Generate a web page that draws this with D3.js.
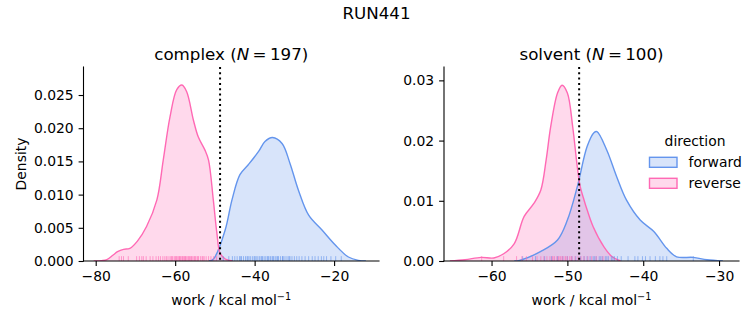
<!DOCTYPE html>
<html><head><meta charset="utf-8">
<script src="https://cdn.jsdelivr.net/npm/d3@7"></script>
<style>
html,body{margin:0;padding:0;background:#fff;}
svg{display:block;font-family:"DejaVu Sans",sans-serif;}
</style></head>
<body><svg id="chart" width="753" height="325"></svg>
<script>
// ---- data ----
const suptitle = "RUN441";
const directions = ["forward", "reverse"];
const colors = ["#6495ED", "#FF69B4"];

// complex panel density curves
const complexForwardWork = [-51.5,-50.8,-50.0,-47.4,-45.7,-43.7,-41.6,-39.0,-37.4,-35.5,-33.1,-31.1,-29.0,-26.4,-23.1,-19.7,-16.4,-13.9,-12.0];
const complexForwardDensity = [0,0.0001,0.0006,0.0047,0.0092,0.0130,0.0145,0.0165,0.0180,0.0186,0.0177,0.0147,0.0107,0.0069,0.0047,0.0024,0.0006,0.0001,0];
const complexReverseWork = [-80.5,-78.5,-77.2,-75.6,-74.5,-73.0,-71.4,-69.5,-67.2,-64.6,-63.0,-61.3,-59.6,-58.3,-57.1,-55.4,-54.2,-52.5,-51.6,-50.4,-49.5,-48.7,-47.4,-45.5];
const complexReverseDensity = [0,0.00005,0.0002,0.0009,0.0014,0.00176,0.0019,0.0030,0.0052,0.0092,0.0152,0.0217,0.0258,0.0265,0.0255,0.0212,0.0187,0.0167,0.0152,0.0092,0.0042,0.0012,0.0003,0];

// solvent panel density curves
const solventForwardWork = [-57.0,-56.3,-53.5,-51.3,-50.0,-48.7,-47.4,-46.5,-46.1,-44.8,-43.5,-42.2,-40.4,-38.6,-36.9,-35.6,-33.4,-31.6,-29.5];
const solventForwardDensity = [0,0.0001,0.0016,0.0035,0.0068,0.0123,0.0190,0.0213,0.0215,0.0184,0.0140,0.0101,0.0068,0.0049,0.0021,0.0007,0.0006,0.0002,0];
const solventReverseWork = [-65.5,-63.5,-61.4,-59.7,-58.4,-57.0,-55.7,-54.4,-53.5,-52.8,-52.2,-51.3,-50.7,-50.0,-49.3,-48.7,-48.3,-47.8,-47.4,-46.6,-45.2,-44.1,-43.0];
const solventReverseDensity = [0,0.0002,0.0006,0.0005,0.0012,0.0029,0.0074,0.0096,0.0118,0.0168,0.0223,0.0279,0.0292,0.0279,0.0223,0.0157,0.0123,0.0101,0.0085,0.0057,0.0024,0.0007,0];

// rug samples (individual work values)
const complexForwardRug = [-47.9,-46.5,-45.6,-45.0,-44.4,-43.8,-43.5,-43.3,-42.8,-42.3,-41.9,-41.7,-41.4,-41.0,-40.5,-40.1,-39.9,-39.6,-39.2,-38.8,-38.4,-38.2,-38.0,-37.6,-37.2,-36.8,-36.6,-36.4,-36.0,-35.6,-35.4,-35.2,-34.8,-34.4,-34.2,-34.0,-33.5,-33.0,-32.9,-32.6,-32.1,-31.6,-31.3,-31.1,-30.6,-30.0,-29.4,-28.8,-28.1,-27.3,-26.4,-25.5,-24.8,-24.0,-23.2,-22.6,-21.9,-20.8,-19.6,-18.2];
const complexReverseRug = [-74.1,-73.5,-73.0,-71.8,-69.7,-69.0,-68.4,-68.0,-67.3,-66.3,-65.6,-64.8,-64.2,-63.7,-63.1,-62.6,-62.2,-61.8,-61.3,-61.0,-60.8,-60.6,-60.2,-59.9,-59.7,-59.5,-59.2,-58.9,-58.8,-58.6,-58.3,-58.1,-58.0,-57.7,-57.5,-57.4,-57.1,-56.8,-56.6,-56.4,-56.1,-55.9,-55.7,-55.3,-55.1,-54.9,-54.5,-54.3,-54.1,-53.6,-53.2,-53.0,-52.7,-52.2,-51.6,-51.0,-50.3,-49.6];
const solventForwardRug = [-55.9,-54.2,-53.0,-52.1,-51.3,-50.6,-50.0,-49.4,-48.9,-48.3,-47.8,-47.4,-47.0,-46.6,-46.4,-46.2,-45.8,-45.6,-45.4,-45.0,-44.8,-44.6,-44.2,-44.0,-43.8,-43.4,-42.9,-42.0,-41.1,-40.7,-40.1,-39.7,-39.1,-38.4,-37.8,-37.4,-36.9,-33.4];
const solventReverseRug = [-61.3,-58.4,-56.7,-56.0,-55.4,-54.6,-54.0,-53.5,-53.1,-52.7,-52.3,-52.0,-51.9,-51.7,-51.4,-51.2,-51.1,-50.9,-50.7,-50.6,-50.3,-50.2,-50.0,-49.7,-49.5,-49.4,-49.0,-48.6,-48.2,-47.8,-47.3,-46.8,-46.2,-45.3];

// vertical reference lines
const complexRef = -48.7;
const solventRef = -48.45;

// axis ticks
const complexXTicks = [-80, -60, -40, -20];
const complexYTicks = [0, 0.005, 0.010, 0.015, 0.020, 0.025];
const solventXTicks = [-60, -50, -40, -30];
const solventYTicks = [0, 0.01, 0.02, 0.03];

const panels = [
  {name: "complex", n: 197, x0: 83.5, x1: 379, xd: [-83.07, -8.7], yd: [0, 0.02922],
   xt: complexXTicks, yt: complexYTicks, yfmt: d3.format(".3f"), ref: complexRef,
   series: [
     {work: complexForwardWork, dens: complexForwardDensity, rug: complexForwardRug, c: colors[0]},
     {work: complexReverseWork, dens: complexReverseDensity, rug: complexReverseRug, c: colors[1]}]},
  {name: "solvent", n: 100, x0: 444, x1: 739, xd: [-66.27, -27.37], yd: [0, 0.03222],
   xt: solventXTicks, yt: solventYTicks, yfmt: d3.format(".2f"), ref: solventRef,
   series: [
     {work: solventForwardWork, dens: solventForwardDensity, rug: solventForwardRug, c: colors[0]},
     {work: solventReverseWork, dens: solventReverseDensity, rug: solventReverseRug, c: colors[1]}]}
];

const svg = d3.select("#chart");
const yTop = 67, yBottom = 261;
const minus = s => s.replace("-", "\u2212");
const curve = d3.curveCatmullRom.alpha(0.5);

svg.append("text").attr("x", 376.5).attr("y", 19).attr("text-anchor", "middle")
  .attr("font-size", 16.7).attr("fill", "#000").text(suptitle);

panels.forEach((p, pi) => {
  const x = d3.scaleLinear().domain(p.xd).range([p.x0, p.x1]);
  const y = d3.scaleLinear().domain(p.yd).range([yBottom, yTop]);
  const g = svg.append("g");
  const clipId = "clip" + pi;
  svg.append("defs").append("clipPath").attr("id", clipId)
    .append("rect").attr("x", p.x0).attr("y", yTop).attr("width", p.x1 - p.x0).attr("height", yBottom - yTop);
  const plot = g.append("g").attr("clip-path", `url(#${clipId})`);

  // fills
  p.series.forEach(s => {
    const pts = s.work.map((w, i) => [w, s.dens[i]]);
    const area = d3.area().x(d => x(d[0])).y0(y(0)).y1(d => y(Math.max(0, d[1]))).curve(curve);
    plot.append("path").attr("d", area(pts)).attr("fill", s.c).attr("fill-opacity", 0.25);
  });
  p.series.forEach(s => {
    const pts = s.work.map((w, i) => [w, s.dens[i]]);
    const line = d3.line().x(d => x(d[0])).y(d => y(d[1])).curve(curve);
    plot.append("path").attr("d", line(pts)).attr("fill", "none").attr("stroke", s.c).attr("stroke-width", 1.4);
  });
  // rugs
  p.series.forEach(s => {
    plot.selectAll(null).data(s.rug).enter().append("line")
      .attr("x1", d => x(d)).attr("x2", d => x(d))
      .attr("y1", yBottom).attr("y2", yBottom - (yBottom - yTop) * 0.025)
      .attr("stroke", s.c).attr("stroke-width", 1).attr("stroke-opacity", 0.6);
  });
  // reference line
  g.append("line").attr("x1", x(p.ref)).attr("x2", x(p.ref)).attr("y1", yTop).attr("y2", yBottom)
    .attr("stroke", "#000").attr("stroke-width", 2).attr("stroke-dasharray", "2,3.3");

  // axes
  const xa = d3.axisBottom(x).tickValues(p.xt).tickSize(4.9).tickPadding(4.9).tickFormat(d => minus(String(d)));
  const ya = d3.axisLeft(y).tickValues(p.yt).tickSize(4.9).tickPadding(4.9).tickFormat(p.yfmt);
  const gx = g.append("g").attr("transform", `translate(0,${yBottom})`).call(xa);
  const gy = g.append("g").attr("transform", `translate(${p.x0},0)`).call(ya);
  [gx, gy].forEach(a => {
    a.selectAll(".domain").remove();
    a.selectAll(".tick line").attr("stroke", "#000").attr("stroke-width", 1.1);
    a.selectAll(".tick text").attr("font-size", 13.9).attr("fill", "#000").attr("font-family", "DejaVu Sans");
  });
  g.append("line").attr("x1", p.x0).attr("x2", p.x1).attr("y1", yBottom).attr("y2", yBottom)
    .attr("stroke", "#000").attr("stroke-width", 1.1).attr("stroke-linecap", "square");
  g.append("line").attr("x1", p.x0).attr("x2", p.x0).attr("y1", yTop).attr("y2", yBottom)
    .attr("stroke", "#000").attr("stroke-width", 1.1).attr("stroke-linecap", "square");

  const cx = (p.x0 + p.x1) / 2;
  const t = g.append("text").attr("x", cx).attr("y", 60).attr("text-anchor", "middle").attr("font-size", 16.7);
  t.append("tspan").text(p.name + " (");
  t.append("tspan").attr("font-style", "italic").text("N");
  t.append("tspan").text("\u2009=\u2009" + p.n + ")");

  const xl = g.append("text").attr("x", cx).attr("y", 305).attr("text-anchor", "middle").attr("font-size", 13.9);
  xl.append("tspan").text("work / kcal mol");
  xl.append("tspan").attr("dy", -5).attr("font-size", 9.7).text("\u22121");

  if (pi === 0) {
    g.append("text").attr("transform", `translate(26,${(yTop + yBottom) / 2}) rotate(-90)`)
      .attr("text-anchor", "middle").attr("font-size", 13.9).text("Density");
  }
});

// legend
const lg = svg.append("g");
lg.append("text").attr("x", 695).attr("y", 146).attr("text-anchor", "middle").attr("font-size", 13.9).text("direction");
directions.forEach((d, i) => {
  const yy = 157.3 + i * 21;
  lg.append("rect").attr("x", 649.5).attr("y", yy).attr("width", 27.5).attr("height", 10)
    .attr("fill", colors[i]).attr("fill-opacity", 0.25).attr("stroke", colors[i]).attr("stroke-width", 1.4);
  lg.append("text").attr("x", 688.5).attr("y", yy + 9.5).attr("font-size", 13.9).text(d);
});
</script></body></html>
